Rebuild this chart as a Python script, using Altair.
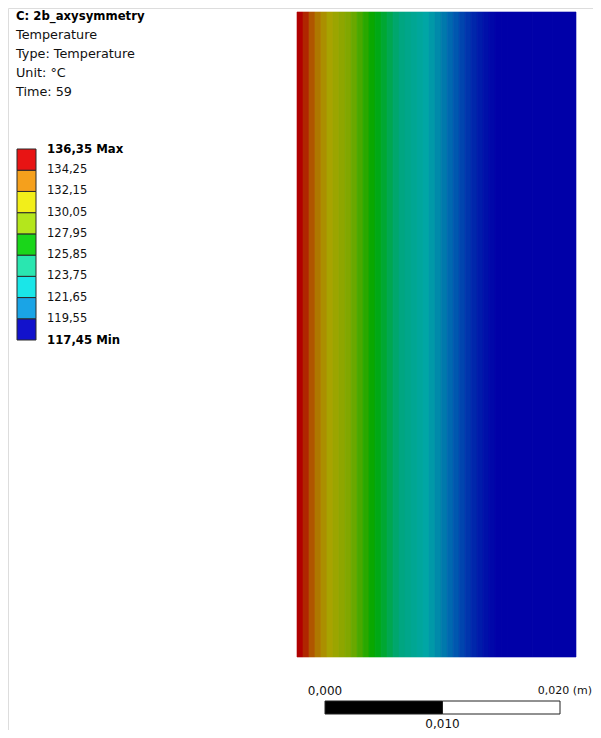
import altair as alt
import pandas as pd

# ---------------- data ----------------
header_lines = ["C: 2b_axysymmetry", "Temperature", "Type: Temperature", "Unit: °C", "Time: 59"]

legend_levels = [117.45, 119.55, 121.65, 123.75, 125.85, 127.95, 130.05, 132.15, 134.25, 136.35]
legend_colors = ["#1212cc", "#1aa4e6", "#1ae6e8", "#2ae6b0", "#1ad61a",
                 "#b4e61c", "#f2ee1a", "#f5a01c", "#e81414"]
contour_colors = ["#0000a8", "#0060b0", "#00a6a6", "#00a67c", "#00a800",
                  "#7aa800", "#a8a400", "#b06c00", "#b00000"]

# radial position across the section (m) and temperature read at it (°C)
positions_m = [0.0, 0.00051, 0.00102, 0.00153, 0.00204, 0.00255, 0.00306, 0.00357,
               0.00409, 0.00460, 0.00511, 0.00562, 0.00613, 0.00664, 0.00715, 0.00766,
               0.00817, 0.00868, 0.00919, 0.00970, 0.01021, 0.01072, 0.01123, 0.01174,
               0.01226, 0.01277, 0.01328, 0.01379, 0.01430, 0.01481, 0.01532, 0.01583,
               0.01634, 0.01685, 0.01736, 0.01787, 0.01872, 0.02000, 0.02170, 0.02374]
temperatures = [136.35, 135.3, 134.2, 133.2, 132.3, 131.5, 130.8, 130.2,
                129.6, 129.0, 128.4, 127.9, 127.3, 126.8, 126.3, 125.8,
                125.3, 124.8, 124.3, 123.9, 123.4, 123.0, 122.5, 122.1,
                121.6, 121.1, 120.6, 120.1, 119.6, 119.2, 118.8, 118.5,
                118.2, 118.0, 117.8, 117.7, 117.6, 117.5, 117.47, 117.45]

scale_ticks = [0.0, 0.010, 0.020]
scale_labels = ["0,000", "0,010", "0,020 (m)"]

FONT = "DejaVu Sans"

# ---------------- tables ----------------
hdr = pd.DataFrame({"i": list(range(len(header_lines))), "t": header_lines})

bands = pd.DataFrame({
    "lo": legend_levels[:-1],
    "hi": legend_levels[1:],
    "c": legend_colors,
})
lvl = pd.DataFrame({
    "v": legend_levels,
    "lab": [f"{v:.2f}".replace(".", ",") for v in legend_levels],
})
lvl.loc[0, "lab"] += " Min"
lvl.loc[len(lvl) - 1, "lab"] += " Max"
lvl["bold"] = [True] + [False] * (len(lvl) - 2) + [True]

cols = pd.DataFrame({
    "x0": positions_m[:-1],
    "x1": positions_m[1:],
    "T": [(a + b) / 2 for a, b in zip(temperatures[:-1], temperatures[1:])],
})
# colour stops: band centres, outer stops pulled toward the extremes
centers = [(a + b) / 2 for a, b in zip(legend_levels[:-1], legend_levels[1:])]
centers[0] = 117.9
centers[-1] = 135.6

bar = pd.DataFrame({
    "a": scale_ticks[:-1],
    "b": scale_ticks[1:],
    "c": ["black", "white"],
})
lab = pd.DataFrame({"x": scale_ticks, "t": scale_labels})

# ---------------- layers ----------------
hy = alt.Scale(domain=[0, len(header_lines) - 1], range=[8, 84])
header_bold = alt.Chart(hdr).transform_filter("datum.i == 0").mark_text(
    align="left", baseline="middle", font=FONT, fontSize=11.7, fontWeight="bold", color="black"
).encode(x=alt.value(8), y=alt.Y("i:Q", scale=hy, axis=None), text="t:N")
header_reg = alt.Chart(hdr).transform_filter("datum.i > 0").mark_text(
    align="left", baseline="middle", font=FONT, fontSize=12.8, color="#111"
).encode(x=alt.value(8), y=alt.Y("i:Q", scale=hy, axis=None), text="t:N")

ly = alt.Scale(domain=[legend_levels[0], legend_levels[-1]], range=[332, 141])
legend_rects = alt.Chart(bands).mark_rect(stroke="#2a2a2a", strokeWidth=1).encode(
    x=alt.value(9), x2=alt.value(28),
    y=alt.Y("lo:Q", scale=ly, axis=None), y2="hi:Q",
    color=alt.Color("c:N", scale=None),
)
legend_lab = alt.Chart(lvl).transform_filter("!datum.bold").mark_text(
    align="left", baseline="middle", font=FONT, fontSize=11.5, color="#111"
).encode(x=alt.value(39), y=alt.Y("v:Q", scale=ly, axis=None), text="lab:N")
legend_lab_b = alt.Chart(lvl).transform_filter("datum.bold").mark_text(
    align="left", baseline="middle", font=FONT, fontSize=11.7, fontWeight="bold", color="black"
).encode(x=alt.value(39), y=alt.Y("v:Q", scale=ly, axis=None), text="lab:N")

cscale = alt.Scale(domain=centers, range=contour_colors, interpolate="rgb", clamp=True)
contour = alt.Chart(cols).mark_rect(strokeWidth=0.6).encode(
    x=alt.X("x0:Q", scale=alt.Scale(domain=[0, positions_m[-1]], range=[289, 568]), axis=None),
    x2="x1:Q",
    y=alt.value(4), y2=alt.value(649),
    color=alt.Color("T:Q", scale=cscale, legend=None),
    stroke=alt.Stroke("T:Q", scale=cscale, legend=None),
)

sx = alt.Scale(domain=[scale_ticks[0], scale_ticks[-1]], range=[317, 552])
bar_rects = alt.Chart(bar).mark_rect(stroke="#222", strokeWidth=1).encode(
    x=alt.X("a:Q", scale=sx, axis=None), x2="b:Q",
    y=alt.value(693), y2=alt.value(706),
    color=alt.Color("c:N", scale=None),
)
lab_top_left = alt.Chart(lab).transform_filter("datum.x == 0").mark_text(
    align="center", baseline="middle", font=FONT, fontSize=12, color="#111"
).encode(x=alt.X("x:Q", scale=sx, axis=None), y=alt.value(683), text="t:N")
lab_top_right = alt.Chart(lab).transform_filter("datum.x > 0.015").mark_text(
    align="right", baseline="middle", font=FONT, fontSize=11, color="#111", dx=32
).encode(x=alt.X("x:Q", scale=sx, axis=None), y=alt.value(683), text="t:N")
lab_bottom = alt.Chart(lab).transform_filter("datum.x > 0.005 && datum.x < 0.015").mark_text(
    align="center", baseline="middle", font=FONT, fontSize=12, color="#111"
).encode(x=alt.X("x:Q", scale=sx, axis=None), y=alt.value(716), text="t:N")

chart = alt.layer(
    contour, header_bold, header_reg, legend_rects, legend_lab, legend_lab_b,
    bar_rects, lab_top_left, lab_top_right, lab_bottom,
).resolve_scale(
    x="independent", y="independent", color="independent", stroke="independent"
).properties(
    width=585, height=722, padding=0, autosize=alt.AutoSizeParams(type="none")
).configure_view(strokeWidth=0, stroke="transparent").configure(background="white")

chart.save("out.html", embed_options={"renderer": "svg", "actions": False})
